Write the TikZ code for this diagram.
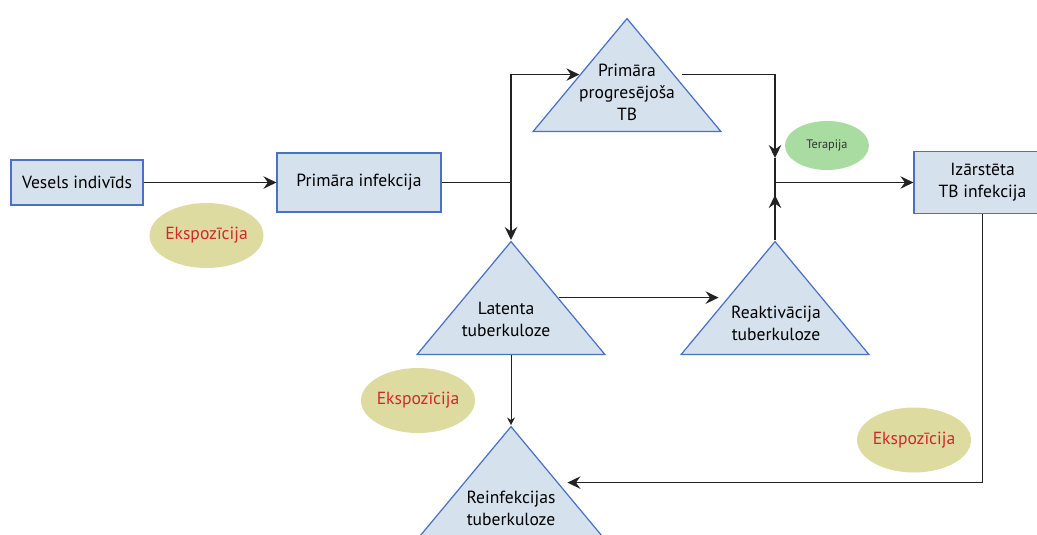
\documentclass[tikz,border=0pt]{standalone}
\usepackage{xcolor}
\usepackage{fontspec}
\setmainfont{PT Sans}
\usepackage{tikz}
\usetikzlibrary{calc}
\usetikzlibrary{arrows.meta}
\usetikzlibrary{shapes}
\usetikzlibrary{shapes.geometric}
\definecolor{boxfill}{HTML}{D5E1ED}
\definecolor{boxline}{HTML}{4A72C4}
\definecolor{expofill}{HTML}{DEDBA0}
\definecolor{expotext}{HTML}{D0282D}
\definecolor{terfill}{HTML}{A8DCA0}
\definecolor{linecol}{HTML}{222222}
\tikzset{>={Stealth[length=2.6mm, width=2.5mm, inset=0.9mm]}}
\tikzstyle{state} = [rectangle, draw=boxline, fill=boxfill, line width=0.7pt, align=center, font=\fontsize{10}{12.5}\selectfont]
\tikzstyle{tri} = [isosceles triangle, isosceles triangle stretches, shape border rotate=90, draw=boxline, fill=boxfill, line width=0.7pt, inner sep=0pt, minimum width=3.76cm, minimum height=2.26cm]
\tikzstyle{tritext} = [align=center, inner sep=0pt, font=\fontsize{10}{12.5}\selectfont]
\tikzstyle{expo} = [ellipse, fill=expofill, text=expotext, inner sep=-4pt, minimum width=2.28cm, minimum height=1.3cm, font=\fontsize{10}{12.5}\selectfont]
\tikzstyle{ther} = [ellipse, fill=terfill, text=black!80, inner sep=-2pt, minimum width=1.68cm, minimum height=0.98cm, font=\fontsize{7}{8}\selectfont]
\tikzstyle{flow} = [->, draw=linecol, line width=0.75pt]
\tikzstyle{plain} = [-, draw=linecol, line width=0.75pt]
\tikzstyle{minorflow} = [-{Stealth[length=1.5mm, width=1.6mm, inset=0.5mm]}, draw=linecol, line width=0.5pt]

\begin{document}
\begin{tikzpicture}[x=0.02cm, y=-0.02cm]
\clip (0,0) rectangle (1037,534);
\node [state, minimum width=2.64cm, minimum height=0.9cm] (ves) at (77,182.5) {Vesels indivīds};
\node [state, minimum width=3.28cm, minimum height=1.18cm] (pinf) at (359,182.5) {Primāra infekcija};
\node [state, minimum width=2.74cm, minimum height=1.24cm] (izar) at (982.5,182.5) {Izārstēta\\TB infekcija};
\node [tri, anchor=apex] (ppt) at (627,17) {};
\node [tri, anchor=apex] (lat) at (511,240) {};
\node [tri, anchor=apex] (reak) at (775,240) {};
\node [tri, anchor=apex] (reinf) at (511,425) {};
\node [tritext] (pptT) at (627,92) {Primāra\\progresējoša\\TB};
\node [tritext] (latT) at (506,319) {Latenta\\tuberkuloze};
\node [tritext] (reakT) at (776,323) {Reaktivācija\\tuberkuloze};
\node [tritext] (reinfT) at (511,508) {Reinfekcijas\\tuberkuloze};
\node [expo] (exp1) at (206.5,235.5) {Ekspozīcija};
\node [expo] (exp2) at (418,400.5) {Ekspozīcija};
\node [expo] (exp3) at (914,440) {Ekspozīcija};
\node [ther] (ther) at (827,145.5) {Terapija};
\coordinate (fork) at (511,182.5);
\coordinate (down) at (775,158);
\coordinate (merge) at (775,182.5);
\coordinate (up) at (775,195);
\draw [flow] (ves) -- (pinf);
\draw [plain] (pinf) -- (fork);
\draw [flow] (fork) -- (lat.apex);
\draw [flow] (fork) |- (ppt.left side);
\draw [flow, shorten <=4pt] (ppt.right side) -| (down);
\draw [plain] (down) -- (reak.apex);
\draw [flow] (reak.apex) -- (up);
\draw [flow] (merge) -- (izar);
\draw [flow, shorten >=5pt] (lat.right side) -- (reak.left side);
\draw [minorflow] (lat.lower side) -- (reinf.apex);
\draw [flow, shorten >=5pt] (izar.south) |- (reinf.right side);
\end{tikzpicture}
\end{document}
